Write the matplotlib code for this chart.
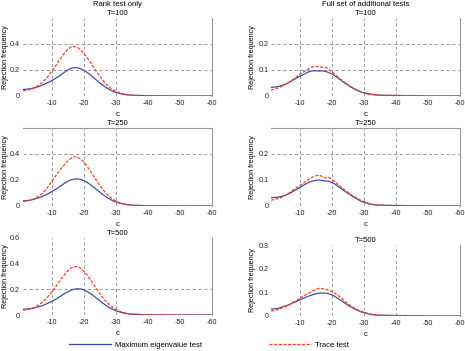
import matplotlib
matplotlib.use("Agg")
import matplotlib.pyplot as plt
from matplotlib.lines import Line2D

plt.rcParams['font.family'] = ['Liberation Sans', 'DejaVu Sans']
plt.rcParams['font.size'] = 5.5
plt.rcParams['axes.unicode_minus'] = False

# c grid: -1 ... -35, then sparse tail
c = [-float(i) for i in range(1, 36)] + [-40, -45, -50, -55, -60]
tail = [0.002, 0.001, 0.0, 0.0, 0.0]

# Rank test only
rank_t100_maxeig = [0.050, 0.052, 0.055, 0.060, 0.066, 0.074, 0.083, 0.094, 0.106, 0.119,
                    0.133, 0.149, 0.166, 0.184, 0.200, 0.213, 0.219, 0.217, 0.210, 0.198,
                    0.182, 0.163, 0.142, 0.121, 0.100, 0.081, 0.064, 0.049, 0.037, 0.028,
                    0.021, 0.015, 0.011, 0.008, 0.006] + tail
rank_t100_trace = [0.040, 0.043, 0.048, 0.056, 0.068, 0.084, 0.104, 0.128, 0.157, 0.190,
                   0.225, 0.262, 0.298, 0.332, 0.360, 0.377, 0.381, 0.374, 0.355, 0.328,
                   0.296, 0.260, 0.222, 0.185, 0.150, 0.118, 0.090, 0.067, 0.049, 0.035,
                   0.025, 0.018, 0.013, 0.009, 0.006] + tail
rank_t250_maxeig = [0.040, 0.041, 0.044, 0.049, 0.056, 0.064, 0.073, 0.084, 0.097, 0.111,
                    0.125, 0.141, 0.158, 0.175, 0.190, 0.201, 0.207, 0.208, 0.204, 0.195,
                    0.182, 0.165, 0.146, 0.126, 0.106, 0.087, 0.069, 0.054, 0.041, 0.031,
                    0.023, 0.017, 0.012, 0.009, 0.006] + tail
rank_t250_trace = [0.035, 0.038, 0.043, 0.051, 0.062, 0.077, 0.096, 0.120, 0.154, 0.190,
                   0.225, 0.258, 0.290, 0.320, 0.347, 0.368, 0.378, 0.376, 0.362, 0.338,
                   0.306, 0.270, 0.232, 0.194, 0.158, 0.125, 0.096, 0.072, 0.053, 0.038,
                   0.027, 0.019, 0.013, 0.009, 0.006] + tail
rank_t500_maxeig = [0.045, 0.046, 0.048, 0.052, 0.058, 0.065, 0.073, 0.083, 0.094, 0.106,
                    0.120, 0.135, 0.151, 0.167, 0.181, 0.193, 0.201, 0.205, 0.203, 0.196,
                    0.184, 0.168, 0.150, 0.130, 0.110, 0.091, 0.073, 0.057, 0.044, 0.033,
                    0.025, 0.018, 0.013, 0.009, 0.006] + tail
rank_t500_trace = [0.038, 0.041, 0.046, 0.054, 0.065, 0.080, 0.099, 0.122, 0.150, 0.180,
                   0.213, 0.248, 0.283, 0.316, 0.345, 0.366, 0.377, 0.376, 0.364, 0.342,
                   0.312, 0.277, 0.240, 0.202, 0.166, 0.133, 0.104, 0.079, 0.059, 0.043,
                   0.031, 0.022, 0.015, 0.010, 0.007] + tail

# Full set of additional tests
full_t100_maxeig = [0.033, 0.034, 0.036, 0.039, 0.043, 0.048, 0.055, 0.062, 0.069, 0.076,
                    0.082, 0.088, 0.094, 0.097, 0.097, 0.096, 0.097, 0.095, 0.090, 0.085,
                    0.077, 0.068, 0.059, 0.050, 0.042, 0.034, 0.027, 0.021, 0.016, 0.012,
                    0.009, 0.007, 0.005, 0.004, 0.003] + tail
full_t100_trace = [0.023, 0.026, 0.030, 0.035, 0.041, 0.048, 0.056, 0.065, 0.074, 0.083,
                   0.091, 0.099, 0.106, 0.112, 0.114, 0.112, 0.111, 0.110, 0.102, 0.093,
                   0.083, 0.072, 0.062, 0.052, 0.044, 0.036, 0.029, 0.022, 0.017, 0.013,
                   0.010, 0.007, 0.005, 0.004, 0.003] + tail
full_t250_maxeig = [0.032, 0.033, 0.034, 0.036, 0.039, 0.044, 0.050, 0.057, 0.064, 0.071,
                    0.079, 0.086, 0.092, 0.096, 0.099, 0.100, 0.098, 0.096, 0.095, 0.091,
                    0.084, 0.075, 0.066, 0.057, 0.049, 0.041, 0.033, 0.026, 0.019, 0.014,
                    0.010, 0.007, 0.005, 0.004, 0.003] + tail
full_t250_trace = [0.022, 0.025, 0.028, 0.032, 0.038, 0.045, 0.053, 0.062, 0.070, 0.078,
                   0.087, 0.096, 0.104, 0.111, 0.116, 0.119, 0.113, 0.108, 0.110, 0.103,
                   0.093, 0.082, 0.072, 0.062, 0.053, 0.044, 0.036, 0.029, 0.022, 0.017,
                   0.012, 0.009, 0.006, 0.004, 0.003] + tail
full_t500_maxeig = [0.030, 0.030, 0.031, 0.036, 0.041, 0.045, 0.050, 0.056, 0.062, 0.068,
                    0.074, 0.080, 0.085, 0.090, 0.094, 0.096, 0.097, 0.097, 0.094, 0.089,
                    0.082, 0.073, 0.064, 0.055, 0.046, 0.038, 0.031, 0.024, 0.018, 0.014,
                    0.010, 0.007, 0.005, 0.004, 0.003] + tail
full_t500_trace = [0.021, 0.023, 0.027, 0.031, 0.037, 0.043, 0.050, 0.058, 0.066, 0.075,
                   0.083, 0.091, 0.098, 0.106, 0.112, 0.117, 0.116, 0.113, 0.109, 0.104,
                   0.096, 0.086, 0.075, 0.063, 0.052, 0.042, 0.034, 0.027, 0.021, 0.016,
                   0.012, 0.009, 0.006, 0.004, 0.003] + tail

xticks = [-10, -20, -30, -40, -50, -60]
BLUE = '#3b4cb0'
RED = '#ff3a1a'
GRID = '#8c8c8c'
W, H = 465, 351


def px_axes(fig, x0, y0, x1, y1):
    # pixel box (top-left origin) -> figure fraction
    return fig.add_axes([x0 / W, 1 - y1 / H, (x1 - x0) / W, (y1 - y0) / H])


def panel(ax, blue, red, ymax, yticks, hlines, vlines, title, ypad, ylab_x, top_spine=False):
    for v in vlines:
        ax.axvline(v, color=GRID, lw=0.6, ls=(0, (4, 3)), zorder=1)
    for h in hlines:
        ax.axhline(h, color=GRID, lw=0.6, ls=(0, (4, 3)), zorder=1)
    ax.plot(c, blue, color=BLUE, lw=0.9, zorder=3)
    ax.plot(c, red, color=RED, lw=0.9, ls=(0, (2.5, 1.2)), zorder=4)
    ax.set_xlim(-1, -60)
    ax.set_ylim(0, ymax)
    ax.set_xticks(xticks)
    ax.set_yticks(yticks)
    ax.set_yticklabels(['0' if t == 0 else '%g' % t for t in yticks])
    ax.tick_params(length=0, labelsize=5.2, colors='#222222')
    ax.tick_params(axis='x', pad=3)
    ax.tick_params(axis='y', pad=ypad)
    for s in ['left', 'bottom', 'top']:
        ax.spines[s].set_visible(False)
    ax.spines['right'].set_color('#999999')
    ax.spines['right'].set_linewidth(0.8)
    if top_spine:
        ax.spines['top'].set_visible(True)
        ax.spines['top'].set_color('#999999')
        ax.spines['top'].set_linewidth(0.8)
    ax.set_xlabel('c', labelpad=3)
    ax.set_ylabel('Rejection frequency', fontsize=5.2)
    ax.yaxis.set_label_coords(ylab_x, 0.5)
    ax.yaxis.label.set_verticalalignment('center')
    ax.set_title(title, fontsize=5.5, pad=2.5, linespacing=1.3)


fig = plt.figure(figsize=(4.65, 3.51), dpi=100)

L = dict(ypad=2.5, ylab_x=-0.095)
R = dict(ypad=1.5, ylab_x=-0.10)

a1 = px_axes(fig, 23, 18, 212, 96)
panel(a1, rank_t100_maxeig, rank_t100_trace, 0.6, [0, 0.2, 0.4], [0.2, 0.4],
      [-10, -20, -30], 'Rank test only\nT=100', **L)
a2 = px_axes(fig, 271, 18, 460, 96)
panel(a2, full_t100_maxeig, full_t100_trace, 0.3, [0, 0.1, 0.2], [0.1, 0.2],
      [-10, -20, -30, -40], 'Full set of additional tests\nT=100', **R)
a3 = px_axes(fig, 23, 128, 212, 206)
panel(a3, rank_t250_maxeig, rank_t250_trace, 0.6, [0, 0.2, 0.4], [0.4],
      [-10, -20, -30], 'T=250', top_spine=True, **L)
a4 = px_axes(fig, 271, 128, 460, 206)
panel(a4, full_t250_maxeig, full_t250_trace, 0.3, [0, 0.1, 0.2], [0.2],
      [-10, -20, -30, -40], 'T=250', top_spine=True, **R)
a5 = px_axes(fig, 23, 238, 212, 315)
panel(a5, rank_t500_maxeig, rank_t500_trace, 0.6, [0, 0.2, 0.4, 0.6], [0.2],
      [-10, -20, -30], 'T=500', **L)
a6 = px_axes(fig, 271, 245, 460, 316)
panel(a6, full_t500_maxeig, full_t500_trace, 0.3, [0, 0.1, 0.2, 0.3], [],
      [-10, -20, -30, -40], 'T=500', **R)

h1 = Line2D([], [], color=BLUE, lw=0.9)
h2 = Line2D([], [], color=RED, lw=0.9, ls=(0, (2.5, 1.2)))
fig.legend([h1], ['Maximum eigenvalue test'], loc='center left',
           bbox_to_anchor=(62 / W, 1 - 345 / H), frameon=False,
           handlelength=5.5, handletextpad=0.6, fontsize=5.5)
fig.legend([h2], ['Trace test'], loc='center left',
           bbox_to_anchor=(262 / W, 1 - 345 / H), frameon=False,
           handlelength=5.5, handletextpad=0.6, fontsize=5.5)

fig.savefig('out.png', dpi=100)
